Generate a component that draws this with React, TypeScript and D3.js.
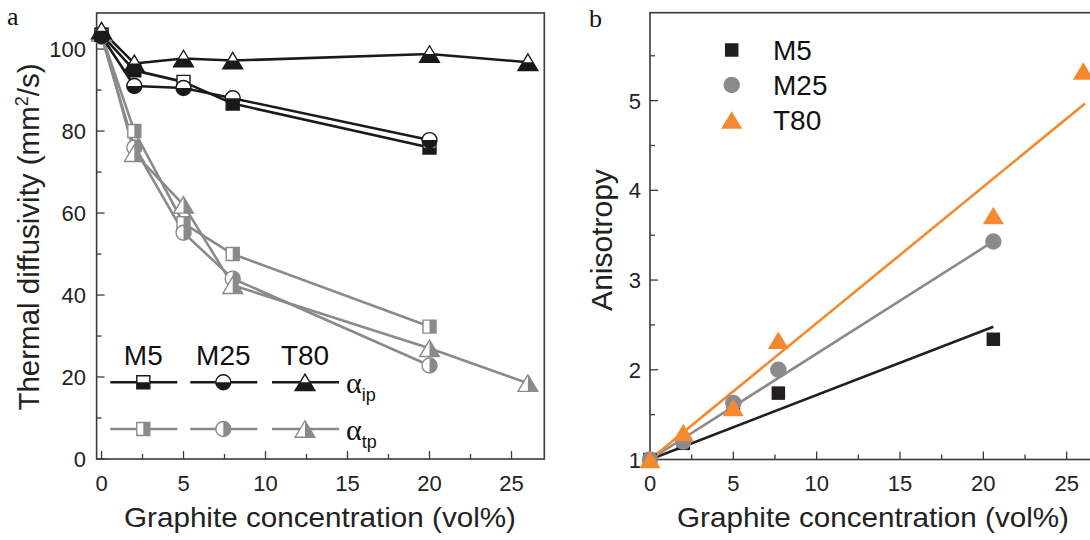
import React from "react";
import * as d3 from "d3";

// ---------- Panel a data (thermal diffusivity, mm^2/s) ----------
const xA = [0, 2, 5, 8, 20, 26];
const ipM5 = [103.5, 94.8, 92.0, 86.7, 76.0];
const ipM25 = [103.2, 91.0, 90.5, 88.0, 77.8];
const ipT80 = [104.5, 96.5, 97.7, 97.2, 98.8, 96.8];
const tpM5 = [103.5, 80.0, 57.5, 50.0, 32.3];
const tpM25 = [103.0, 76.0, 55.2, 44.0, 22.8];
const tpT80 = [104.0, 74.6, 62.0, 42.4, 27.0, 18.5];
const samples = ["M5", "M25", "T80"];
const ticksAx = [0, 5, 10, 15, 20, 25];
const ticksAy = [0, 20, 40, 60, 80, 100];

// ---------- Panel b data (anisotropy) ----------
const xBM5 = [0, 2, 5, 7.7, 20.6];
const bM5 = [1.0, 1.18, 1.6, 1.74, 2.34];
const xBM25 = [0, 2, 5, 7.7, 20.6];
const bM25 = [1.0, 1.2, 1.63, 2.0, 3.43];
const xBT80 = [0, 2, 5, 7.7, 20.6, 26];
const bT80 = [1.0, 1.3, 1.58, 2.33, 3.72, 5.33];
const fitSlope = [0.0718, 0.118, 0.152];
const fitEnd = [20.6, 20.6, 26.1];
const ticksBx = [0, 5, 10, 15, 20, 25];
const ticksBy = [1, 2, 3, 4, 5];

const SANS = "'Liberation Sans', Arial, Helvetica, sans-serif";
const SERIF = "'Liberation Serif', 'Times New Roman', serif";

const BLACK = "#1a1a1a";
const GRAY = "#8a8a8a";
const B_BLACK = "#231f20";
const B_GRAY = "#8b8b8e";
const B_ORANGE = "#f4892f";

type Shape = "square" | "circle" | "triangle";

function shapePath(shape: Shape, cx: number, cy: number, s: number): string {
  if (shape === "square") {
    return `M${cx - s / 2},${cy - s / 2}h${s}v${s}h${-s}Z`;
  }
  if (shape === "circle") {
    const r = s / 2;
    return `M${cx - r},${cy}a${r},${r} 0 1,0 ${2 * r},0a${r},${r} 0 1,0 ${-2 * r},0Z`;
  }
  const w = s * 1.2;
  const h = s;
  return `M${cx},${cy - h / 2}L${cx + w / 2},${cy + h / 2}L${cx - w / 2},${cy + h / 2}Z`;
}

const shapeSizeA: Record<Shape, number> = { square: 13, circle: 15, triangle: 16.5 };

function HalfMarker({ shape, cx, cy, color, clip }: { shape: Shape; cx: number; cy: number; color: string; clip: string }) {
  const d = shapePath(shape, cx, cy, shapeSizeA[shape]);
  return (
    <g>
      <path d={d} fill="#fff" />
      <path d={d} fill={color} clipPath={`url(#${clip})`} />
      <path d={d} fill="none" stroke={color} strokeWidth={1.4} />
    </g>
  );
}

function zip(xs: number[], ys: number[]) {
  return ys.map((y, i) => ({ x: xs[i], y }));
}

export default function App() {
  // ---- panel a scales ----
  const xa = d3.scaleLinear().domain([-0.3, 27]).range([96.6, 544.3]);
  const ya = d3.scaleLinear().domain([0, 108.8]).range([459, 13]);
  // ---- panel b scales ----
  const xb = d3.scaleLinear().domain([0, 27]).range([650, 1100]);
  const yb = d3.scaleLinear().domain([1, 5.98]).range([459.5, 12.7]);

  const lineA = d3
    .line<{ x: number; y: number }>()
    .x((d) => xa(d.x))
    .y((d) => ya(d.y));

  const shapes: Shape[] = ["square", "circle", "triangle"];
  const ipSeries = [ipM5, ipM25, ipT80].map((v) => zip(xA, v));
  const tpSeries = [tpM5, tpM25, tpT80].map((v) => zip(xA, v));

  const minorAx = d3.range(0, 27.1, 2.5);
  const minorAy = d3.range(0, 108, 10);
  const minorBx = d3.range(0, 27.1, 2.5);
  const minorBy = d3.range(1, 5.99, 0.5);

  const axisStroke = "#3a3a3a";

  // panel b series
  const bSeries = [
    { pts: zip(xBM5, bM5), shape: "square" as Shape, color: B_BLACK, size: 13.5 },
    { pts: zip(xBM25, bM25), shape: "circle" as Shape, color: B_GRAY, size: 16.5 },
    { pts: zip(xBT80, bT80), shape: "triangle" as Shape, color: B_ORANGE, size: 17.5 },
  ];

  // legend a positions (data-independent layout)
  const legAx = [143.3, 223.3, 305];
  const legAy = [382.3, 429];

  return (
    <svg width={1090} height={540} style={{ display: "block", position: "absolute", left: 0, top: 0 }}>
      <defs>
        <clipPath id="bottomHalf" clipPathUnits="objectBoundingBox">
          <rect x={0} y={0.5} width={1} height={0.5} />
        </clipPath>
        <clipPath id="rightHalf" clipPathUnits="objectBoundingBox">
          <rect x={0.5} y={0} width={0.5} height={1} />
        </clipPath>
        <clipPath id="plotB">
          <rect x={640} y={0} width={460} height={470} />
        </clipPath>
      </defs>
      <rect x={0} y={0} width={1090} height={540} fill="#fff" />

      {/* ================= PANEL A ================= */}
      <text x={7} y={25} fontFamily={SERIF} fontSize={26} fill="#111">a</text>

      {/* frame */}
      <rect x={xa.range()[0]} y={ya.range()[1]} width={xa.range()[1] - xa.range()[0]} height={ya.range()[0] - ya.range()[1]}
        fill="none" stroke={axisStroke} strokeWidth={1.6} />
      {/* ticks */}
      {minorAx.map((t) => (
        <line key={"amx" + t} x1={xa(t)} x2={xa(t)} y1={ya(0)} y2={ya(0) - (t % 5 === 0 ? 8 : 5)} stroke={axisStroke} strokeWidth={1.3} />
      ))}
      {minorAy.map((t) => (
        <line key={"amy" + t} x1={xa.range()[0]} x2={xa.range()[0] + (t % 20 === 0 ? 8 : 5)} y1={ya(t)} y2={ya(t)} stroke={axisStroke} strokeWidth={1.3} />
      ))}
      {ticksAx.map((t) => (
        <text key={"atx" + t} x={xa(t)} y={491} textAnchor="middle" fontFamily={SANS} fontSize={22} fill="#222">{t}</text>
      ))}
      {ticksAy.map((t) => (
        <text key={"aty" + t} x={86} y={ya(t) + 8} textAnchor="end" fontFamily={SANS} fontSize={22} fill="#222">{t}</text>
      ))}
      <text x={320} y={527} textAnchor="middle" fontFamily={SANS} fontSize={28} fill="#222" textLength={392} lengthAdjust="spacingAndGlyphs">
        Graphite concentration (vol%)
      </text>
      <text transform={`translate(39,237) rotate(-90)`} textAnchor="middle" fontFamily={SANS} fontSize={29.5} fill="#222">
        Thermal diffusivity (mm<tspan dy={-11} fontSize={18}>2</tspan><tspan dy={11}>/s)</tspan>
      </text>

      {/* lines */}
      {tpSeries.map((s, i) => (
        <path key={"tpl" + i} d={lineA(s) || ""} fill="none" stroke={GRAY} strokeWidth={2.6} strokeLinejoin="round" />
      ))}
      {ipSeries.map((s, i) => (
        <path key={"ipl" + i} d={lineA(s) || ""} fill="none" stroke={BLACK} strokeWidth={2.6} strokeLinejoin="round" />
      ))}
      {/* markers */}
      {tpSeries.map((s, i) =>
        s.map((p, j) => (
          <HalfMarker key={`tpm${i}-${j}`} shape={shapes[i]} cx={xa(p.x)} cy={ya(p.y)} color={GRAY} clip="rightHalf" />
        ))
      )}
      {ipSeries.map((s, i) =>
        s.map((p, j) => (
          <HalfMarker key={`ipm${i}-${j}`} shape={shapes[i]} cx={xa(p.x)} cy={ya(p.y)} color={BLACK} clip="bottomHalf" />
        ))
      )}

      {/* legend a */}
      {samples.map((name, i) => (
        <text key={"lgat" + i} x={legAx[i]} y={365} textAnchor="middle" fontFamily={SANS} fontSize={28} fill="#111">{name}</text>
      ))}
      {samples.map((name, i) => (
        <g key={"lgr" + i}>
          <line x1={legAx[i] - 33} x2={legAx[i] + 34} y1={legAy[0]} y2={legAy[0]} stroke={BLACK} strokeWidth={2.6} />
          <HalfMarker shape={shapes[i]} cx={legAx[i]} cy={legAy[0]} color={BLACK} clip="bottomHalf" />
          <line x1={legAx[i] - 33} x2={legAx[i] + 34} y1={legAy[1]} y2={legAy[1]} stroke={GRAY} strokeWidth={2.6} />
          <HalfMarker shape={shapes[i]} cx={legAx[i]} cy={legAy[1]} color={GRAY} clip="rightHalf" />
        </g>
      ))}
      <text x={346} y={393} fontFamily={SERIF} fontSize={30} fill="#111">
        α<tspan dy={8} fontFamily={SANS} fontSize={18}>ip</tspan>
      </text>
      <text x={346} y={440} fontFamily={SERIF} fontSize={30} fill="#111">
        α<tspan dy={8} fontFamily={SANS} fontSize={18}>tp</tspan>
      </text>

      {/* ================= PANEL B ================= */}
      <text x={589} y={27} fontFamily={SERIF} fontSize={26} fill="#111">b</text>

      <rect x={xb.range()[0]} y={yb.range()[1]} width={xb.range()[1] - xb.range()[0]} height={yb.range()[0] - yb.range()[1]}
        fill="none" stroke={axisStroke} strokeWidth={1.6} />
      {minorBx.map((t) => (
        <line key={"bmx" + t} x1={xb(t)} x2={xb(t)} y1={yb(1)} y2={yb(1) - (t % 5 === 0 ? 8 : 5)} stroke={axisStroke} strokeWidth={1.3} />
      ))}
      {minorBy.map((t) => (
        <line key={"bmy" + t} x1={xb(0)} x2={xb(0) + (t % 1 === 0 ? 8 : 5)} y1={yb(t)} y2={yb(t)} stroke={axisStroke} strokeWidth={1.3} />
      ))}
      {ticksBx.map((t) => (
        <text key={"btx" + t} x={xb(t)} y={491} textAnchor="middle" fontFamily={SANS} fontSize={22} fill="#222">{t}</text>
      ))}
      {ticksBy.map((t) => (
        <text key={"bty" + t} x={641} y={yb(t) + 8} textAnchor="end" fontFamily={SANS} fontSize={22} fill="#222">{t}</text>
      ))}
      <text x={873} y={527} textAnchor="middle" fontFamily={SANS} fontSize={28} fill="#222" textLength={392} lengthAdjust="spacingAndGlyphs">
        Graphite concentration (vol%)
      </text>
      <text transform={`translate(612,240) rotate(-90)`} textAnchor="middle" fontFamily={SANS} fontSize={30} fill="#222">
        Anisotropy
      </text>

      <g clipPath="url(#plotB)">
        {bSeries.map((s, i) => (
          <line key={"fit" + i} x1={xb(0)} y1={yb(1)} x2={xb(fitEnd[i])} y2={yb(1 + fitSlope[i] * fitEnd[i])}
            stroke={s.color} strokeWidth={2.6} />
        ))}
        {bSeries.map((s, i) =>
          s.pts.map((p, j) => (
            <path key={`bm${i}-${j}`} d={shapePath(s.shape, xb(p.x), yb(p.y), s.size)} fill={s.color} />
          ))
        )}
      </g>

      {/* legend b */}
      {bSeries.map((s, i) => (
        <g key={"lgb" + i}>
          <path d={shapePath(s.shape, 731.7, 50 + i * 35, s.size)} fill={s.color} />
          <text x={773} y={60 + i * 35} fontFamily={SANS} fontSize={28} fill="#111">{samples[i]}</text>
        </g>
      ))}
    </svg>
  );
}
